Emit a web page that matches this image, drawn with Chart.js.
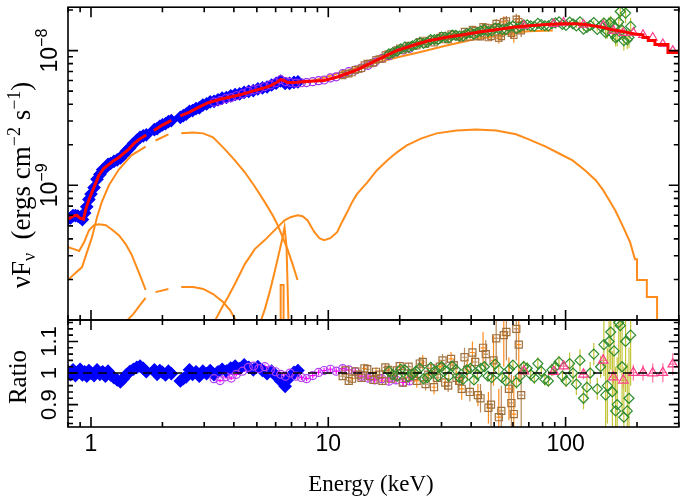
<!DOCTYPE html>
<html>
<head>
<meta charset="utf-8">
<script src="https://cdn.jsdelivr.net/npm/chart.js@4.4.1/dist/chart.umd.min.js"></script>
<style>
  body { margin: 0; background: #fff; }
  #wrap { position: relative; width: 686px; height: 499px; }
  canvas { position: absolute; left: 0; top: 0; }
</style>
</head>
<body>
<div id="wrap">
  <canvas id="specChart" width="686" height="499"></canvas>
  <canvas id="ratioChart" width="686" height="499"></canvas>
</div>
<script>
// ---- axis ticks ----
const xMajorTicks = [1, 10, 100];
const xMinorTicks = [0.8, 0.9, 2, 3, 4, 5, 6, 7, 8, 9, 20, 30, 40, 50, 60, 70, 80, 90, 200, 300];
const xTickLabels = ['1', '10', '100'];
const fluxMajorTicks = [1e-10, 1e-9, 1e-8];
const fluxMinorTicks = [2e-10, 3e-10, 4e-10, 5e-10, 6e-10, 7e-10, 8e-10, 9e-10,
                        2e-9, 3e-9, 4e-9, 5e-9, 6e-9, 7e-9, 8e-9, 9e-9, 2e-8];
const fluxLabelTicks = [1e-9, 1e-8];
const fluxLabelExp = ['\u22129', '\u22128'];
const ratioMajorTicks = [0.9, 1, 1.1];
const ratioMinorTicks = [0.84, 0.86, 0.88, 0.92, 0.94, 0.96, 0.98, 1.02, 1.04, 1.06, 1.08, 1.12, 1.14, 1.16];
const ratioTickLabels = ['0.9', '1', '1.1'];

// ---- total model (red) ----
const modelE = [0.80,0.84,0.87,0.90,0.93,0.95,0.98,1.01,1.05,1.08,1.13,1.19,1.25,1.31,1.37,1.44,1.52,1.60,1.71,1.78,
  1.84,2.0,2.18,2.28,2.38,2.60,2.85,3.12,3.5,3.9,4.29,4.8,5.3,5.72,6.1,6.3,6.5,6.73,7.2,8.0,9.6,11.0,13.2,16,19.4,
  23,26.7,32,37,44,51,60,70,83,97,110,121,140,157,170,184,196,212,212,223,223,238,238,270,270,300];
const modelF = [5.6e-10,5.9e-10,6.0e-10,5.7e-10,5.6e-10,6.6e-10,7.8e-10,8.9e-10,1.05e-9,1.19e-9,1.33e-9,1.43e-9,1.53e-9,
  1.61e-9,1.72e-9,1.85e-9,2.05e-9,2.2e-9,2.36e-9,null,2.55e-9,2.8e-9,3.03e-9,null,3.28e-9,3.5e-9,3.8e-9,4.1e-9,4.35e-9,
  4.55e-9,4.72e-9,5.0e-9,5.25e-9,5.5e-9,5.85e-9,6.1e-9,6.0e-9,5.8e-9,5.8e-9,5.9e-9,6.0e-9,6.4e-9,7.2e-9,8.5e-9,1.0e-8,
  1.1e-8,1.19e-8,1.26e-8,1.31e-8,1.38e-8,1.43e-8,1.49e-8,1.53e-8,1.56e-8,1.58e-8,1.58e-8,1.56e-8,1.50e-8,1.43e-8,
  1.40e-8,1.36e-8,1.33e-8,1.31e-8,1.25e-8,1.25e-8,1.19e-8,1.19e-8,1.11e-8,1.11e-8,9.7e-9,9.7e-9];

// ---- model components (orange) ----
const softE = [0.80,0.849,0.917,0.962,1.01,1.06,1.11,1.19,1.31,1.48,1.70,1.78,1.87,2.12,2.28,2.40,2.70,2.97,3.27,3.67,
  4.04,4.45,4.90,5.40,5.83,6.12,6.42,6.73,7.07,7.42];
const softF = [1.98e-10,2.19e-10,2.47e-10,3.19e-10,4.12e-10,5.8e-10,7.5e-10,1.0e-9,1.31e-9,1.67e-9,1.94e-9,null,2.15e-9,
  2.39e-9,null,2.43e-9,2.47e-9,2.43e-9,2.27e-9,1.85e-9,1.53e-9,1.25e-9,9.8e-10,7.5e-10,6.0e-10,5.06e-10,4.12e-10,
  3.36e-10,2.6e-10,1.98e-10];
const coolE = [0.80,0.849,0.891,0.935,0.981,1.03,1.08,1.155,1.22,1.31,1.40,1.48,1.54,1.62,1.70];
const coolF = [3.47e-10,3.36e-10,3.25e-10,3.78e-10,4.64e-10,5.06e-10,5.14e-10,5.06e-10,4.72e-10,4.26e-10,3.66e-10,
  3.08e-10,2.6e-10,2.08e-10,1.67e-10];
const warmE = [1.37,1.51,1.62,1.70,1.78,1.87,2.12,2.28,2.40,2.70,2.97,3.27,3.60,3.85,4.16];
const warmF = [9.3e-11,1.11e-10,1.31e-10,1.46e-10,null,1.61e-10,1.70e-10,null,1.76e-10,1.76e-10,1.70e-10,1.56e-10,
  1.36e-10,1.19e-10,9.3e-11];
const reflE = [3.27,3.53,3.78,4.04,4.45,4.90,5.40,5.83,6.12,6.54,6.93,7.42,7.78,8.17,8.74,9.17,9.6,10.2,10.9,11.4,
  12.0,12.6,13.2,14.6,16.0,17.7,19.4,21.4,24.7,28.6,34.7,42.0,51,61.8,70,82.5,95.3,107,121,134,
  144,151,162,175,187,196,200,200,220,220,243,243,267,267];
const reflF = [9.3e-11,1.2e-10,1.48e-10,1.85e-10,2.6e-10,3.36e-10,3.92e-10,4.49e-10,4.89e-10,5.5e-10,
  5.8e-10,6.0e-10,5.9e-10,5.5e-10,4.49e-10,4.05e-10,3.92e-10,4.05e-10,4.49e-10,5.3e-10,
  6.3e-10,7.5e-10,8.6e-10,1.05e-9,1.29e-9,1.53e-9,1.75e-9,1.98e-9,2.23e-9,2.43e-9,
  2.55e-9,2.6e-9,2.55e-9,2.39e-9,2.19e-9,1.94e-9,1.70e-9,1.53e-9,1.29e-9,1.09e-9,
  9.2e-10,8.0e-10,6.5e-10,4.89e-10,3.78e-10,2.83e-10,2.83e-10,1.98e-10,1.98e-10,1.48e-10,
  1.48e-10,1.0e-10,1.0e-10,8e-11];
const ironE = [5.14,5.40,5.66,5.94,6.24,6.42,6.54,6.67,6.73,6.80];
const ironF = [9.3e-11,1.2e-10,1.61e-10,2.27e-10,3.3e-10,4.12e-10,4.89e-10,3.47e-10,1.91e-10,9.3e-11];
const ironSpikeE = [6.30,6.30,6.48,6.48];
const ironSpikeF = [8e-11,1.82e-10,1.82e-10,8e-11];
const contE = [6.93,7.42,9.0,12.0,15.3,19.4,24.7,31.5,40.0,51,61.8,70,88.3];
const contF = [5.8e-9,5.6e-9,6.1e-9,7.1e-9,8.0e-9,8.9e-9,9.8e-9,1.09e-8,1.2e-8,1.29e-8,1.36e-8,1.39e-8,1.41e-8];

// ---- data sets ----
const blueE = [0.80,0.82,0.84,0.86,0.88,0.90,0.92,0.94,0.96,0.98,
  1.00,1.03,1.06,1.09,1.12,1.15,1.18,1.21,1.25,1.29,
  1.33,1.37,1.41,1.46,1.51,1.56,1.61,1.66,1.71,
  1.85,1.90,1.95,2.00,2.06,2.12,2.18,
  2.38,2.45,2.52,2.60,2.68,2.77,2.86,2.96,3.07,3.18,
  3.30,3.43,3.57,3.72,3.88,4.05,4.23,4.42,4.62,4.83,
  5.05,5.28,5.52,5.77,6.03,6.30,6.58,6.87,7.17,7.45];
const blueF = [5.63e-10,5.72e-10,5.96e-10,5.95e-10,5.91e-10,5.77e-10,5.57e-10,6.22e-10,6.93e-10,7.86e-10,
  8.6e-10,9.62e-10,1.11e-9,1.205e-9,1.305e-9,1.346e-9,1.429e-9,1.451e-9,1.507e-9,1.545e-9,
  1.594e-9,1.689e-9,1.791e-9,1.899e-9,2.044e-9,2.158e-9,2.269e-9,2.324e-9,2.369e-9,
  2.586e-9,2.639e-9,2.742e-9,2.806e-9,2.863e-9,2.968e-9,3.024e-9,
  3.198e-9,3.29e-9,3.379e-9,3.535e-9,3.586e-9,3.715e-9,3.762e-9,3.944e-9,4.022e-9,4.163e-9,
  4.199e-9,4.317e-9,4.433e-9,4.487e-9,4.613e-9,4.722e-9,4.766e-9,4.904e-9,4.988e-9,5.05e-9,
  5.202e-9,5.282e-9,5.369e-9,5.553e-9,5.722e-9,5.948e-9,5.7e-9,5.713e-9,5.812e-9,5.867e-9];
const blueRatio = [1.005,0.995,1.010,0.992,1.002,1.012,0.994,1.004,0.990,1.008,
  1.000,0.992,1.010,0.996,1.004,0.990,1.006,0.994,0.985,0.978,
  0.972,0.982,0.995,1.005,1.012,1.018,1.022,1.015,1.004,
  1.010,0.996,1.008,1.002,0.994,1.006,0.998,
  0.975,0.982,0.988,1.010,0.996,1.004,0.990,1.006,0.998,1.008,
  0.995,1.004,1.012,1.006,1.016,1.022,1.014,1.026,1.018,1.010,
  1.020,1.008,0.998,1.006,0.990,0.975,0.958,0.985,1.002,1.008];

const purpleE = [3.3,3.5,3.7,3.9,4.1,4.35,4.6,4.85,5.1,5.4,5.7,6.0,6.3,6.6,6.9,7.3,7.7,8.1,8.6,9.1,9.6,
  10.2,10.8,11.5,12.2,13.0,13.8,14.7,15.7,16.8,18.0,19.3,20.7,22.0];
const purpleF = [4.14e-9,4.25e-9,4.4e-9,4.48e-9,4.62e-9,4.78e-9,4.99e-9,5.11e-9,5.19e-9,5.41e-9,5.56e-9,5.77e-9,
  6.08e-9,5.89e-9,5.8e-9,5.74e-9,5.77e-9,5.79e-9,5.88e-9,5.98e-9,6.05e-9,6.27e-9,6.39e-9,6.74e-9,6.97e-9,7.18e-9,
  7.43e-9,7.77e-9,8.22e-9,8.74e-9,9.16e-9,9.78e-9,1.01e-8,1.04e-8];
const purpleRatio = [0.982,0.976,0.988,0.984,0.996,1.006,1.018,1.022,1.014,1.02,1.01,1.004,0.996,0.99,1.0,0.99,
  0.986,0.982,0.992,1.002,1.008,1.012,1.006,1.014,1.01,1.004,0.99,0.984,0.978,0.982,0.974,0.978,0.97,0.975];
const purpleErr = [0.006,0.006,0.006,0.006,0.006,0.007,0.007,0.007,0.007,0.007,0.008,0.008,0.008,0.008,0.008,0.008,
  0.008,0.008,0.009,0.009,0.009,0.009,0.009,0.01,0.01,0.01,0.01,0.01,0.011,0.011,0.012,0.012,0.013,0.013];

const brownE = [11.5,12.2,13.0,13.8,14.6,15.5,16.4,17.4,18.4,19.5,20.6,21.8,23.0,24.3,25.7,27.2,28.7,30.3,32.0,33.8,
  35.6,37.5,39.5,41.6,43.8,46.1,48.5,51.0,53.6,56.3,59.1,62.0,65.0];
const brownF = [6.53e-9,6.73e-9,7.19e-9,7.39e-9,8.0e-9,8.12e-9,8.66e-9,9.26e-9,9.43e-9,1.008e-8,1.009e-8,1.091e-8,
  1.089e-8,1.164e-8,1.119e-8,1.208e-8,1.192e-8,1.29e-8,1.21e-8,1.312e-8,1.268e-8,1.386e-8,1.26e-8,1.408e-8,
  1.27e-8,1.484e-8,1.274e-8,1.587e-8,1.276e-8,1.661e-8,1.348e-8,1.71e-8,1.404e-8];
const brownRatio = [0.99,0.975,1.005,0.985,1.012,0.978,0.995,1.018,0.982,1.008,0.97,1.02,0.99,1.03,0.965,1.015,0.985,
  1.04,0.96,1.025,0.975,1.05,0.94,1.035,0.92,1.06,0.9,1.11,0.88,1.13,0.905,1.14,0.93];
const brownErr = [0.012,0.012,0.012,0.012,0.012,0.012,0.012,0.012,0.012,0.012,0.012,0.012,0.02,0.02,0.02,0.02,0.02,
  0.02,0.02,0.02,0.03,0.03,0.03,0.03,0.045,0.045,0.07,0.08,0.08,0.09,0.09,0.1,0.1];

const tanE = [11.8,12.6,13.4,14.2,15.0,15.9,16.9,17.9,18.9,20.0,21.2,22.4,23.6,25.0,26.4,27.9,29.5,31.1,32.9,34.7,
  36.5,38.5,40.5,42.7,44.9,47.3,49.7,52.3,54.9,57.7,60.5,63.5];
const tanF = [6.75e-9,6.87e-9,7.26e-9,7.82e-9,8.02e-9,8.53e-9,8.68e-9,9.44e-9,9.72e-9,1.042e-8,1.039e-8,1.085e-8,
  1.087e-8,1.19e-8,1.169e-8,1.146e-8,1.25e-8,1.208e-8,1.327e-8,1.271e-8,1.24e-8,1.338e-8,1.432e-8,1.274e-8,
  1.501e-8,1.25e-8,1.477e-8,1.238e-8,1.635e-8,1.406e-8,1.301e-8,1.64e-8];
const tanRatio = [1.008,0.982,0.995,1.015,0.99,1.004,0.975,1.01,0.992,1.022,0.985,1.0,0.975,1.035,0.995,0.955,1.02,
  0.97,1.045,0.985,0.95,1.01,1.065,0.93,1.08,0.89,1.04,0.86,1.12,0.95,0.87,1.09];
const tanErr = [0.014,0.014,0.014,0.014,0.014,0.014,0.014,0.014,0.014,0.014,0.014,0.014,0.022,0.022,0.022,0.022,
  0.022,0.022,0.022,0.022,0.035,0.035,0.035,0.035,0.05,0.05,0.08,0.09,0.1,0.1,0.12,0.12];

const greenE = [18,19.5,21,22.6,24.3,26.1,28,30,32.2,34.5,37,39.7,42.5,45.5,48.8,52.3,56,60,64.3,68.9,73.8,79,84.6,
  90.6,97,104,111,119,127,136,145,150,155,160,165,170,176,182,188];
const greenF = [9.45e-9,9.9e-9,1.06e-8,1.085e-8,1.147e-8,1.152e-8,1.206e-8,1.26e-8,1.247e-8,1.298e-8,1.284e-8,1.36e-8,
  1.363e-8,1.423e-8,1.399e-8,1.454e-8,1.433e-8,1.527e-8,1.495e-8,1.553e-8,1.517e-8,1.558e-8,1.526e-8,1.607e-8,
  1.564e-8,1.627e-8,1.525e-8,1.44e-8,1.54e-8,1.435e-8,1.602e-8,1.392e-8,1.622e-8,1.519e-8,1.269e-8,1.95e-8,
  1.187e-8,1.206e-8,1.512e-8];
const greenRatio = [1.005,0.99,1.01,0.995,1.015,0.985,1.005,1.02,0.99,1.01,0.98,1.015,0.995,1.02,0.985,1.01,0.975,
  1.025,0.99,1.015,0.985,1.005,0.975,1.02,0.99,1.03,0.965,0.92,1.0,0.95,1.09,0.96,1.13,1.07,0.90,1.15,0.86,0.88,1.12];
const greenErr = [0.012,0.012,0.012,0.012,0.012,0.012,0.012,0.012,0.012,0.012,0.012,0.012,0.012,0.012,0.012,0.012,
  0.012,0.012,0.02,0.02,0.02,0.02,0.02,0.02,0.02,0.035,0.035,0.035,0.035,0.035,0.10,0.12,0.12,0.14,0.15,0.15,0.16,
  0.15,0.16];

const green2E = [18.7,20.2,21.8,23.4,25.2,27.0,29.0,31.1,33.3,35.7,38.3,41.1,44.0,47.1,50.5,54.1,58.0,62.1,66.6,71.3,
  76.4,81.8,87.6,93.8,100.5,107.5,115,123,131.5,140.5,147.5,152.5,157.5,162.5,167.5,173,179,185];
const green2F = [9.65e-9,1.032e-8,1.057e-8,1.117e-8,1.129e-8,1.206e-8,1.208e-8,1.26e-8,1.303e-8,1.281e-8,1.338e-8,
  1.325e-8,1.401e-8,1.391e-8,1.47e-8,1.433e-8,1.498e-8,1.455e-8,1.55e-8,1.527e-8,1.591e-8,1.529e-8,1.586e-8,
  1.635e-8,1.541e-8,1.58e-8,1.638e-8,1.485e-8,1.617e-8,1.52e-8,1.358e-8,1.584e-8,1.344e-8,1.245e-8,1.63e-8,
  1.418e-8,1.9e-8,1.251e-8];
const green2Ratio = [0.995,1.012,0.988,1.006,0.982,1.018,0.99,1.008,1.022,0.985,1.01,0.978,1.015,0.99,1.028,0.985,
  1.012,0.97,1.02,0.995,1.03,0.98,1.01,1.035,0.975,1.0,1.04,0.955,1.06,1.02,0.93,1.1,0.94,0.88,1.16,1.02,1.1,0.92];
const green2Err = [0.012,0.012,0.012,0.012,0.012,0.012,0.012,0.012,0.012,0.012,0.012,0.012,0.012,0.012,0.012,0.012,
  0.012,0.02,0.02,0.02,0.02,0.02,0.02,0.02,0.02,0.035,0.035,0.035,0.035,0.035,0.1,0.12,0.13,0.14,0.15,0.15,0.16,0.16];

const pinkE = [66.7,89.1,98.1,119,144,159,175,193,212,233,257,283];
const pinkF = [1.53e-8,1.576e-8,1.615e-8,1.559e-8,1.539e-8,1.406e-8,1.354e-8,1.36e-8,1.31e-8,1.25e-8,1.12e-8,1.0e-8];
const pinkRatio = [1.006,1.004,1.022,0.996,1.04,0.987,0.977,1.001,1.001,1.0,1.001,1.028];
const pinkErr = [0.01,0.012,0.014,0.016,0.02,0.02,0.025,0.025,0.025,0.03,0.03,0.035];

const unityE = [0.8, 300];
const unityR = [1, 1];

// ---- colours / fonts ----
const ORANGE = '#ff8c1a';
const NONE = 'rgba(0,0,0,0)';
const SANS = '"Liberation Sans", Arial, sans-serif';
const SERIF = '"Liberation Serif", "Times New Roman", serif';

function pts(xs, ys) {
  return xs.map((x, i) => ({ x: x, y: ys[i] }));
}

function lineSet(xs, ys, color, width, extra) {
  return Object.assign({
    data: pts(xs, ys), borderColor: color, borderWidth: width,
    pointRadius: 0, fill: false, tension: 0, spanGaps: false
  }, extra || {});
}

function markerSet(xs, ys, style, radius, color, fillColor, extra) {
  return Object.assign({
    data: pts(xs, ys), showLine: false, pointStyle: style, pointRadius: radius,
    pointBorderColor: color, pointBackgroundColor: fillColor, pointBorderWidth: 1.2
  }, extra || {});
}

// frame with inward ticks on all four sides
const frameTicks = {
  id: 'frameTicks',
  afterDraw(chart, args, opts) {
    const ctx = chart.ctx;
    const a = chart.chartArea;
    const xs = chart.scales.x, ys = chart.scales.y;
    ctx.save();
    ctx.strokeStyle = '#000';
    ctx.lineWidth = 1.6;
    ctx.strokeRect(a.left, a.top, a.right - a.left, a.bottom - a.top);
    ctx.beginPath();
    function xt(v, len) {
      const p = xs.getPixelForValue(v);
      ctx.moveTo(p, a.top); ctx.lineTo(p, a.top + len);
      ctx.moveTo(p, a.bottom); ctx.lineTo(p, a.bottom - len);
    }
    function yt(v, len) {
      const p = ys.getPixelForValue(v);
      ctx.moveTo(a.left, p); ctx.lineTo(a.left + len, p);
      ctx.moveTo(a.right, p); ctx.lineTo(a.right - len, p);
    }
    xMajorTicks.forEach(v => xt(v, 10));
    xMinorTicks.forEach(v => xt(v, 5));
    opts.yMajor.forEach(v => yt(v, 10));
    opts.yMinor.forEach(v => yt(v, 5));
    ctx.stroke();
    ctx.restore();
  }
};

// error bars under the markers
const errorBars = {
  id: 'errorBars',
  beforeDatasetsDraw(chart) {
    const ctx = chart.ctx;
    const a = chart.chartArea;
    const xs = chart.scales.x, ys = chart.scales.y;
    ctx.save();
    ctx.beginPath();
    ctx.rect(a.left, a.top, a.right - a.left, a.bottom - a.top);
    ctx.clip();
    chart.data.datasets.forEach(ds => {
      if (!ds.errs) return;
      ctx.strokeStyle = ds.errColor;
      ctx.lineWidth = 1.2;
      ctx.beginPath();
      ds.data.forEach((p, i) => {
        const e = ds.errs[i];
        const lo = ds.errRel ? p.y * (1 - e) : p.y - e;
        const hi = ds.errRel ? p.y * (1 + e) : p.y + e;
        const px = xs.getPixelForValue(p.x);
        ctx.moveTo(px, ys.getPixelForValue(lo));
        ctx.lineTo(px, ys.getPixelForValue(hi));
        if (ds.binDex) {
          const py = ys.getPixelForValue(p.y);
          ctx.moveTo(xs.getPixelForValue(p.x * Math.pow(10, -ds.binDex)), py);
          ctx.lineTo(xs.getPixelForValue(p.x * Math.pow(10, ds.binDex)), py);
        }
      });
      ctx.stroke();
    });
    ctx.restore();
  }
};

function richText(ctx, parts, x, y, angle) {
  ctx.save();
  ctx.translate(x, y);
  ctx.rotate(angle);
  ctx.fillStyle = '#000';
  ctx.textBaseline = 'alphabetic';
  let w = 0;
  parts.forEach(p => { ctx.font = p.font; p.w = ctx.measureText(p.t).width; w += p.w; });
  let cx = -w / 2;
  parts.forEach(p => { ctx.font = p.font; ctx.fillText(p.t, cx, p.dy || 0); cx += p.w; });
  ctx.restore();
}

const specLabels = {
  id: 'specLabels',
  afterDraw(chart) {
    const ctx = chart.ctx;
    const ys = chart.scales.y;
    const up = -Math.PI / 2;
    fluxLabelTicks.forEach((v, i) => {
      richText(ctx, [
        { t: '10', font: '23px ' + SANS },
        { t: fluxLabelExp[i], font: '16px ' + SANS, dy: -10 }
      ], 57, ys.getPixelForValue(v), up);
    });
    richText(ctx, [
      { t: '\u03bdF', font: '27px ' + SERIF },
      { t: '\u03bd', font: '18px ' + SERIF, dy: 5 },
      { t: '  (ergs cm', font: '27px ' + SERIF },
      { t: '\u22122', font: '18px ' + SERIF, dy: -10 },
      { t: ' s', font: '27px ' + SERIF },
      { t: '\u22121', font: '18px ' + SERIF, dy: -10 },
      { t: ')', font: '27px ' + SERIF }
    ], 30, 185, up);
  }
};

const ratioLabels = {
  id: 'ratioLabels',
  afterDraw(chart) {
    const ctx = chart.ctx;
    const xs = chart.scales.x, ys = chart.scales.y;
    const up = -Math.PI / 2;
    ratioMajorTicks.forEach((v, i) => {
      richText(ctx, [{ t: ratioTickLabels[i], font: '22px ' + SANS }], 56, ys.getPixelForValue(v), up);
    });
    richText(ctx, [{ t: 'Ratio', font: '25px ' + SERIF }], 26, 377, up);
    xMajorTicks.forEach((v, i) => {
      richText(ctx, [{ t: xTickLabels[i], font: '23px ' + SANS }], xs.getPixelForValue(v), 451, 0);
    });
    richText(ctx, [{ t: 'Energy (keV)', font: '23px ' + SERIF }], 371, 491, 0);
  }
};

const baseOptions = {
  responsive: false,
  animation: false,
  devicePixelRatio: 1,
  events: [],
  plugins: { legend: { display: false }, tooltip: { enabled: false } }
};

new Chart(document.getElementById('specChart'), {
  type: 'line',
  data: {
    datasets: [
      lineSet(modelE, modelF, '#ff0000', 3),
      markerSet(pinkE, pinkF, 'triangle', 5, '#ff3d8b', NONE),
      markerSet(greenE, greenF, 'rectRot', 5, '#2e8b2e', NONE,
        { errs: greenErr, errRel: true, errColor: '#c4c436' }),
      markerSet(green2E, green2F, 'rectRot', 5, '#2e8b2e', NONE,
        { errs: green2Err, errRel: true, errColor: '#c4c436' }),
      markerSet(brownE, brownF, 'rect', 4.5, '#a0703c', NONE,
        { errs: brownErr, errRel: true, errColor: '#b07840', binDex: 0.012 }),
      markerSet(tanE, tanF, 'rect', 4.5, '#b07a48', NONE,
        { errs: tanErr, errRel: true, errColor: ORANGE, binDex: 0.012 }),
      markerSet(purpleE, purpleF, 'circle', 4, '#9a2cf0', NONE),
      markerSet(blueE, blueF, 'rectRot', 6, '#0000ff', '#0000ff'),
      lineSet(contE, contF, ORANGE, 2),
      lineSet(reflE, reflF, ORANGE, 2),
      lineSet(ironE, ironF, ORANGE, 2),
      lineSet(ironSpikeE, ironSpikeF, ORANGE, 2),
      lineSet(softE, softF, ORANGE, 2),
      lineSet(coolE, coolF, ORANGE, 2),
      lineSet(warmE, warmF, ORANGE, 2)
    ]
  },
  options: Object.assign({}, baseOptions, {
    layout: { padding: { left: 68, right: 3, top: 4, bottom: 179 } },
    scales: {
      x: { type: 'logarithmic', min: 0.8, max: 300, display: false },
      y: { type: 'logarithmic', min: 1e-10, max: 2.1e-8, display: false }
    },
    plugins: Object.assign({}, baseOptions.plugins, {
      frameTicks: { yMajor: fluxMajorTicks, yMinor: fluxMinorTicks }
    })
  }),
  plugins: [errorBars, frameTicks, specLabels]
});

new Chart(document.getElementById('ratioChart'), {
  type: 'line',
  data: {
    datasets: [
      lineSet(unityE, unityR, '#000', 1.5, { borderDash: [9, 6] }),
      markerSet(pinkE, pinkRatio, 'triangle', 5.5, '#ff3d8b', NONE,
        { errs: pinkErr, errColor: '#ff6f9f', binDex: 0.015 }),
      markerSet(greenE, greenRatio, 'rectRot', 5, '#2e8b2e', NONE,
        { errs: greenErr, errColor: '#c4c436' }),
      markerSet(green2E, green2Ratio, 'rectRot', 5, '#2e8b2e', NONE,
        { errs: green2Err, errColor: '#c4c436' }),
      markerSet(brownE, brownRatio, 'rect', 5, '#a0703c', NONE,
        { errs: brownErr, errColor: '#b88a5a', binDex: 0.01 }),
      markerSet(tanE, tanRatio, 'rect', 5, '#a0703c', NONE,
        { errs: tanErr, errColor: ORANGE, binDex: 0.01 }),
      markerSet(purpleE, purpleRatio, 'circle', 4, '#b040f0', NONE,
        { errs: purpleErr, errColor: '#ff00ff', binDex: 0.012 }),
      markerSet(blueE, blueRatio, 'rectRot', 6, '#0000ff', '#0000ff')
    ]
  },
  options: Object.assign({}, baseOptions, {
    layout: { padding: { left: 68, right: 3, top: 320, bottom: 72 } },
    scales: {
      x: { type: 'logarithmic', min: 0.8, max: 300, display: false },
      y: { type: 'linear', min: 0.829, max: 1.168, display: false }
    },
    plugins: Object.assign({}, baseOptions.plugins, {
      frameTicks: { yMajor: ratioMajorTicks, yMinor: ratioMinorTicks }
    })
  }),
  plugins: [errorBars, frameTicks, ratioLabels]
});
</script>
</body>
</html>
